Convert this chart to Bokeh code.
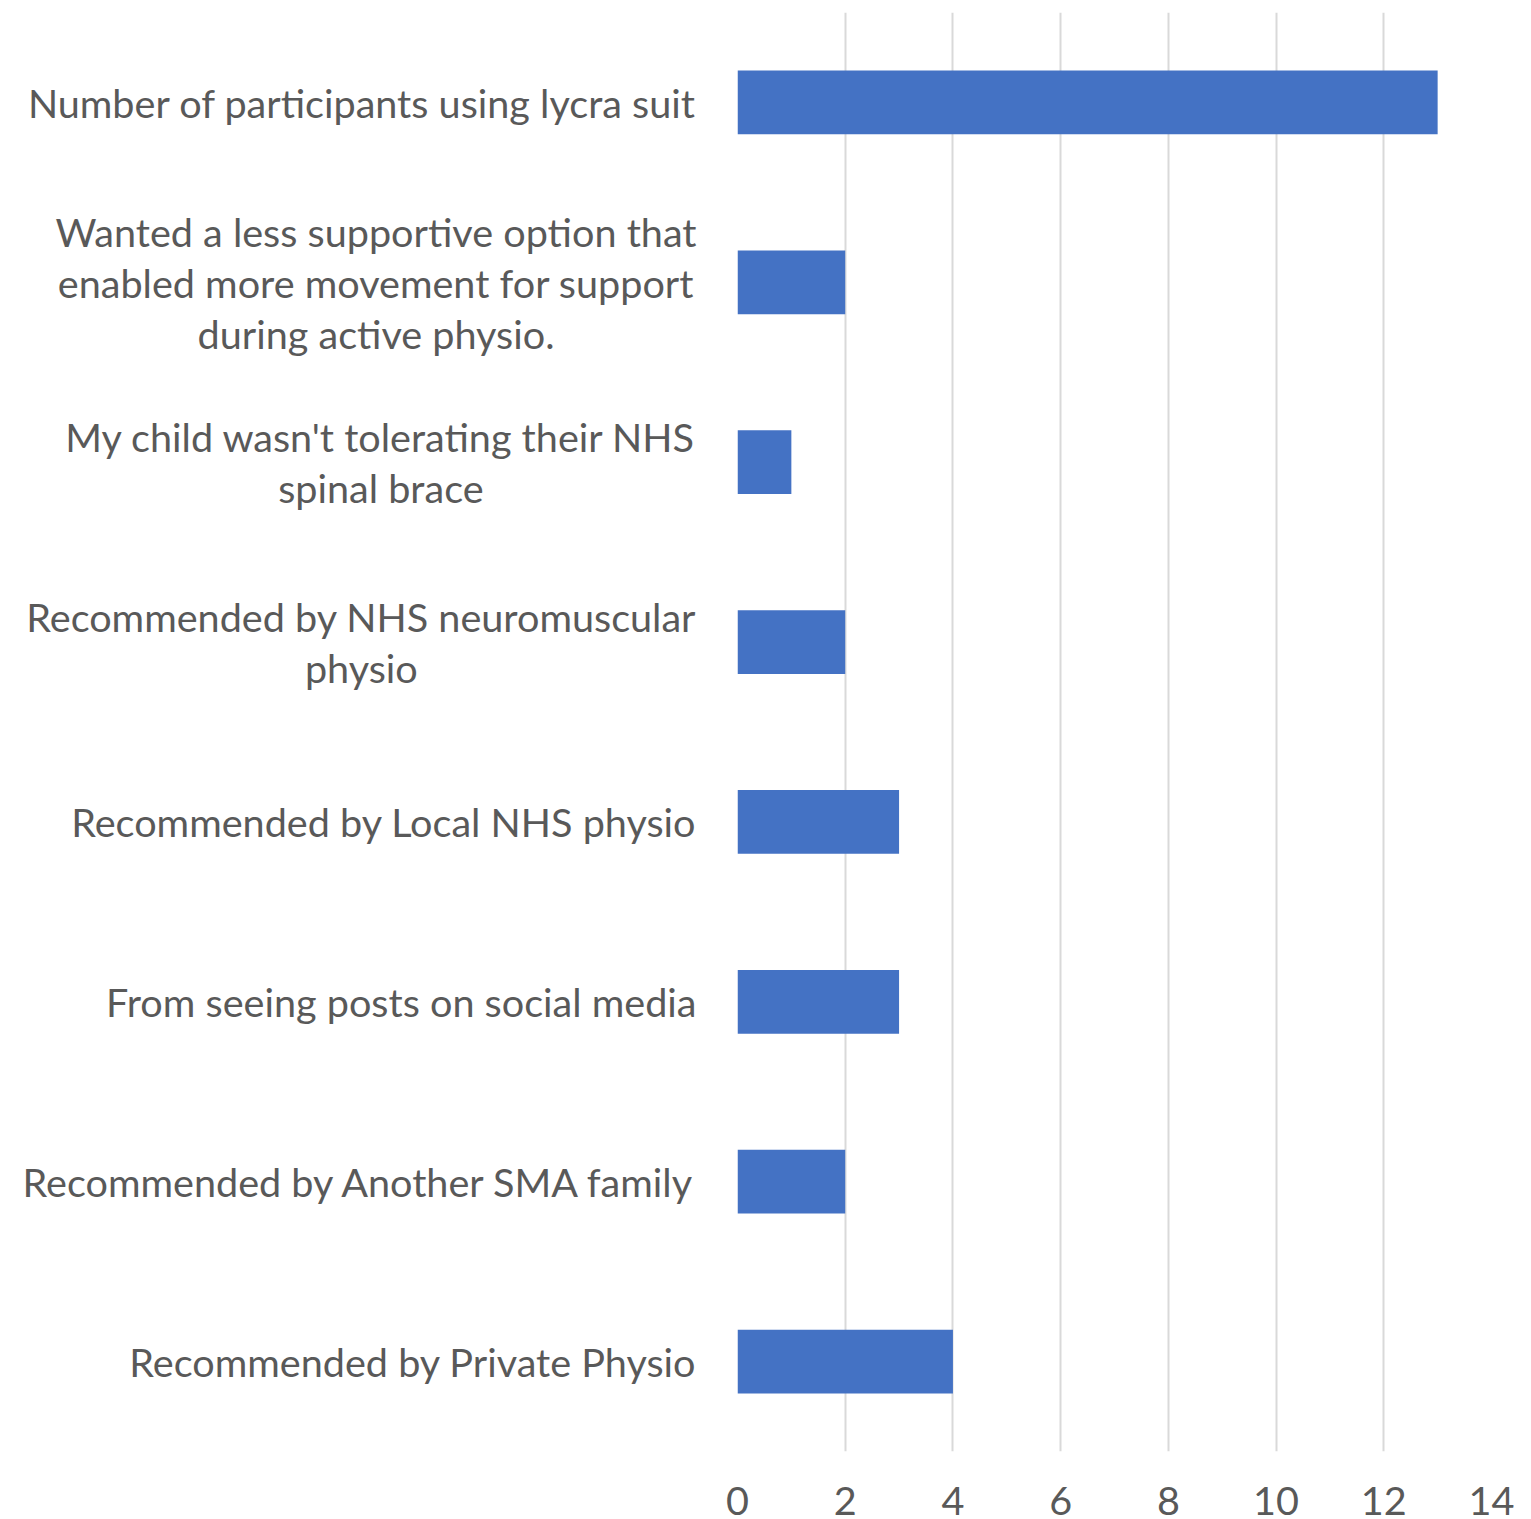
from bokeh.plotting import figure
from bokeh.models import Range1d, ColumnDataSource, FixedTicker
from bokeh.layouts import row
from bokeh.core.properties import value
from bokeh.embed import file_html
from bokeh.resources import INLINE

categories = [
    "Number of participants using lycra suit",
    "Wanted a less supportive option that\nenabled more movement for support\nduring active physio.",
    "My child wasn't tolerating their NHS\nspinal brace",
    "Recommended by NHS neuromuscular\nphysio",
    "Recommended by Local NHS physio",
    "From seeing posts on social media",
    "Recommended by Another SMA family",
    "Recommended by Private Physio",
]
counts = [13, 2, 1, 2, 3, 3, 2, 4]
x_ticks = [0, 2, 4, 6, 8, 10, 12, 14]

FONT = "Lato"
FS = 39.6
TEXT_COLOR = "#595959"

src = ColumnDataSource(dict(cat=categories, n=counts))

H = 1519
top_b, bot_b = 12, 68
LEFT_W = 717

p = figure(y_range=list(reversed(categories)), x_range=Range1d(0, 14),
           width=20 + 754 + 30, height=H, output_backend="svg", toolbar_location=None,
           min_border_left=20, min_border_right=30, min_border_top=top_b, min_border_bottom=bot_b)
p.hbar(y="cat", right="n", height=0.355, source=src, color="#4472C4", line_color=None)
p.yaxis.visible = False
p.ygrid.grid_line_color = None
p.xgrid.grid_line_color = "#d9d9d9"
p.xgrid.grid_line_width = 2
p.xaxis.ticker = FixedTicker(ticks=x_ticks)
p.xaxis.axis_line_color = None
p.xaxis.major_tick_line_color = None
p.xaxis.minor_tick_line_color = None
p.xaxis.major_label_text_font = FONT
p.xaxis.major_label_text_font_size = f"{FS}px"
p.xaxis.major_label_text_color = TEXT_COLOR
p.xaxis.major_label_standoff = 29
p.outline_line_color = None

lab = figure(y_range=p.y_range, x_range=Range1d(0, LEFT_W), width=LEFT_W, height=H,
             output_backend="svg", toolbar_location=None,
             min_border_left=0, min_border_right=0, min_border_top=top_b, min_border_bottom=bot_b)
lab.text(x=696, y="cat", text="cat", source=src, anchor="center_right",
         text_align="center", text_baseline="middle",
         text_font=value(FONT), text_font_size=f"{FS}px", text_color=TEXT_COLOR,
         text_line_height=1.08)
lab.axis.visible = False
lab.grid.grid_line_color = None
lab.outline_line_color = None

layout = row(lab, p)
open("out.html", "w").write(file_html(layout, INLINE))
